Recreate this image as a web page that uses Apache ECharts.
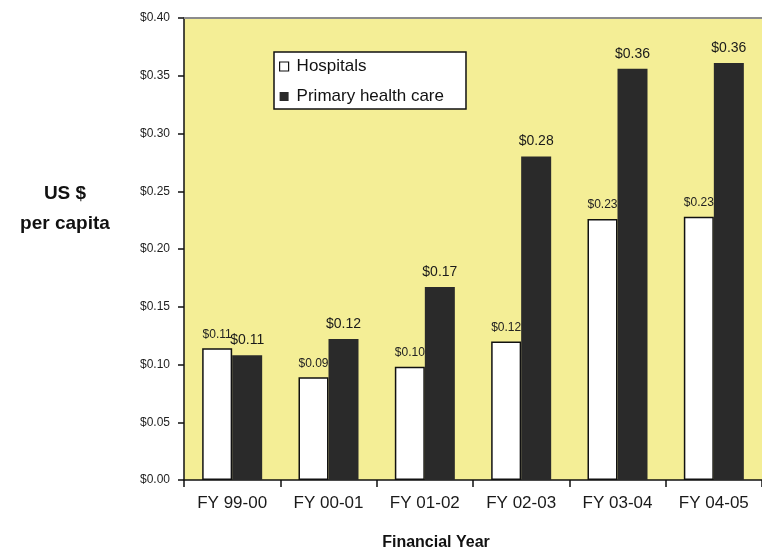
<!DOCTYPE html>
<html>
<head>
<meta charset="utf-8">
<script src="https://cdn.jsdelivr.net/npm/echarts@6/dist/echarts.min.js"></script>
<style>
  html, body { margin: 0; padding: 0; background: #ffffff; }
  #chart { width: 762px; height: 554px; }
</style>
</head>
<body>
<div id="chart"></div>
<script>
// Spending per capita, US $
const years = ['FY 99-00', 'FY 00-01', 'FY 01-02', 'FY 02-03', 'FY 03-04', 'FY 04-05'];
const hospitals = [0.114, 0.089, 0.098, 0.120, 0.226, 0.228];
const primaryCare = [0.108, 0.122, 0.167, 0.280, 0.356, 0.361];
const seriesNames = ['Hospitals', 'Primary health care'];

const FONT = '"Liberation Sans", Arial, sans-serif';
const money = v => '$' + Number(v).toFixed(2);

const chart = echarts.init(document.getElementById('chart'), null, { renderer: 'canvas' });

chart.setOption({
  backgroundColor: '#ffffff',
  animation: false,
  textStyle: { fontFamily: FONT },
  grid: {
    left: 184, top: 18, width: 582, height: 462,
    show: true, backgroundColor: '#f4ee96', borderWidth: 0
  },
  legend: {
    orient: 'vertical',
    left: 274, top: 52,
    padding: [6, 22, 4, 5],
    itemGap: 13,
    itemWidth: 9, itemHeight: 9,
    backgroundColor: '#ffffff',
    borderColor: '#111111', borderWidth: 1.5,
    textStyle: { fontSize: 17, color: '#111111', fontFamily: FONT, padding: [0, 0, 0, 3] },
    data: [
      { name: seriesNames[0], icon: 'rect', itemStyle: { color: '#ffffff', borderColor: '#111111', borderWidth: 1.2 } },
      { name: seriesNames[1], icon: 'rect' }
    ]
  },
  xAxis: [
    {
      type: 'category',
      data: years,
      axisLine: { lineStyle: { color: '#111111', width: 1.5 } },
      axisTick: { show: true, length: 7, lineStyle: { color: '#111111', width: 1.5 } },
      axisLabel: { fontSize: 17, color: '#1a1a1a', margin: 15, fontFamily: FONT },
      splitLine: { show: false }
    },
    {
      // grey frame line along the top of the plot
      type: 'category',
      position: 'top',
      data: years,
      axisLine: { lineStyle: { color: '#8c8c8c', width: 2 } },
      axisTick: { show: false },
      axisLabel: { show: false }
    }
  ],
  yAxis: {
    type: 'value',
    min: 0, max: 0.4, interval: 0.05,
    axisLine: { show: true, lineStyle: { color: '#111111', width: 1.5 } },
    axisTick: { show: true, length: 6, lineStyle: { color: '#111111', width: 1.5 } },
    axisLabel: { fontSize: 12, color: '#1e1e1e', margin: 14, formatter: money, fontFamily: FONT },
    splitLine: { show: false }
  },
  graphic: [
    {
      type: 'text', x: 65, y: 179,
      style: {
        text: 'US $\nper capita', textAlign: 'center', lineHeight: 30,
        font: 'bold 19px ' + FONT, fill: '#111111'
      }
    },
    {
      type: 'text', x: 436, y: 535,
      style: {
        text: 'Financial Year', textAlign: 'center',
        font: 'bold 16px ' + FONT, fill: '#111111'
      }
    }
  ],
  series: [
    {
      name: seriesNames[0],
      type: 'bar',
      data: hospitals,
      barWidth: 30,
      barGap: '0%',
      itemStyle: { color: '#ffffff', borderColor: '#111111', borderWidth: 1.5 },
      label: {
        show: true, position: 'top', distance: 8,
        formatter: p => money(p.value),
        fontSize: 12, color: '#222222', fontFamily: FONT
      }
    },
    {
      name: seriesNames[1],
      type: 'bar',
      data: primaryCare,
      barWidth: 30,
      barGap: '0%',
      itemStyle: { color: '#2a2a2a' },
      label: {
        show: true, position: 'top', distance: 8,
        formatter: p => money(p.value),
        fontSize: 14, color: '#1a1a1a', fontFamily: FONT
      }
    }
  ]
});
</script>
</body>
</html>
